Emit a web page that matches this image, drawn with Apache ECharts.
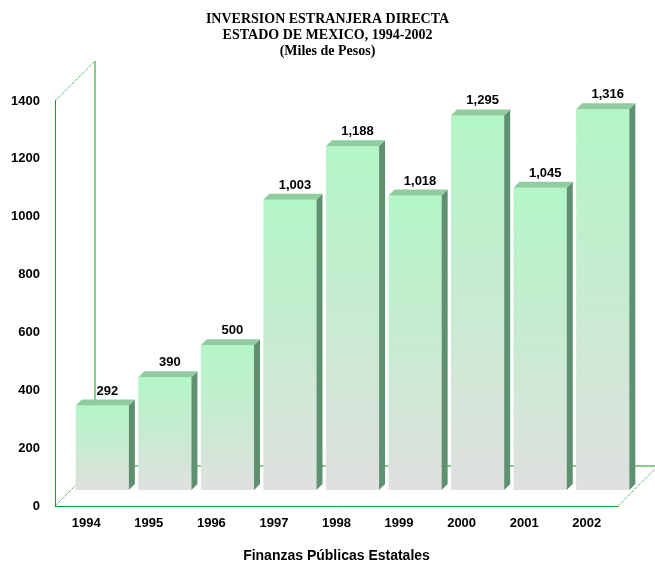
<!DOCTYPE html>
<html>
<head>
<meta charset="utf-8">
<script src="https://cdn.jsdelivr.net/npm/echarts@6/dist/echarts.min.js"></script>
<style>html,body{margin:0;padding:0;background:#fff}#c{width:655px;height:562px}</style>
</head>
<body>
<div id="c"></div>
<script>
var years = ['1994','1995','1996','1997','1998','1999','2000','2001','2002'];
var values = [292, 390, 500, 1003, 1188, 1018, 1295, 1045, 1316];
var titleLines = ['INVERSION ESTRANJERA DIRECTA', 'ESTADO DE MEXICO, 1994-2002', '(Miles de Pesos)'];
var xTitle = 'Finanzas Públicas Estatales';

var GREEN = '#1d991d';
var DEPTH = 40;      // frame depth in px
var OX = 16, OY = -16; // bar plane offset
var BD = 6;          // bar depth

function fmt(v){ return v.toString().replace(/\B(?=(\d{3})+(?!\d))/g, ','); }

var chart = echarts.init(document.getElementById('c'));
chart.setOption({
  animation: false,
  backgroundColor: '#ffffff',
  title: {
    text: titleLines.join('\n'),
    left: 'center', top: 6,
    textStyle: { fontFamily: 'Liberation Serif', fontWeight: 'bold', fontSize: 14, lineHeight: 16, color: '#000' }
  },
  grid: { left: 55, right: 37, top: 101, bottom: 56, containLabel: false, outerBoundsMode: 'none' },
  xAxis: {
    type: 'category', data: years,
    name: xTitle, nameLocation: 'middle', nameGap: 43,
    nameTextStyle: { fontFamily: 'Liberation Sans', fontWeight: 'bold', fontSize: 14, color: '#000' },
    axisLine: { show: true, lineStyle: { color: GREEN, width: 1 } },
    axisTick: { show: false },
    axisLabel: { fontFamily: 'Liberation Sans', fontWeight: 'bold', fontSize: 13, color: '#000', margin: 11 },
    splitLine: { show: false }
  },
  yAxis: {
    type: 'value', min: 0, max: 1400, interval: 200,
    axisLine: { show: true, lineStyle: { color: GREEN, width: 1 } },
    axisTick: { show: false },
    axisLabel: { fontFamily: 'Liberation Sans', fontWeight: 'bold', fontSize: 13, color: '#000', margin: 15,
      formatter: function (v) { return String(v); } },
    splitLine: { show: false }
  },
  series: [
    {
      type: 'custom', z: 1, silent: true,
      data: [[0, 0]],
      renderItem: function (params, api) {
        var cs = params.coordSys;
        var x0 = cs.x, y0 = cs.y + cs.height, yt = cs.y, x1 = cs.x + cs.width;
        var solid = { stroke: GREEN, lineWidth: 1, fill: null };
        var dot = { stroke: GREEN, lineWidth: 1, lineDash: [1, 1], fill: null };
        return {
          type: 'group',
          children: [
            { type: 'line', shape: { x1: x0 + DEPTH, y1: yt - DEPTH, x2: x0 + DEPTH, y2: y0 - DEPTH }, style: solid },
            { type: 'line', shape: { x1: x0 + DEPTH, y1: y0 - DEPTH, x2: x1 + DEPTH, y2: y0 - DEPTH }, style: solid },
            { type: 'line', shape: { x1: x0, y1: yt, x2: x0 + DEPTH, y2: yt - DEPTH }, style: dot },
            { type: 'line', shape: { x1: x0, y1: y0, x2: x0 + DEPTH, y2: y0 - DEPTH }, style: dot },
            { type: 'line', shape: { x1: x1, y1: y0, x2: x1 + DEPTH, y2: y0 - DEPTH }, style: dot }
          ]
        };
      }
    },
    {
      type: 'custom', z: 5,
      data: values.map(function (v, i) { return [i, v]; }),
      renderItem: function (params, api) {
        var idx = api.value(0), v = api.value(1);
        var base = api.coord([idx, 0]);
        var top = api.coord([idx, v]);
        var bw = api.size([1, 0])[0] * 0.85;
        var x0 = base[0] - bw / 2 + OX, x1 = x0 + bw;
        var yb = base[1] + OY, yt = top[1] + OY;
        return {
          type: 'group',
          children: [
            { type: 'rect', shape: { x: x0, y: yt, width: bw, height: yb - yt },
              style: { fill: new echarts.graphic.LinearGradient(0, 0, 0, 1, [
                { offset: 0, color: '#b3f6c7' }, { offset: 0.5, color: '#c8ebd1' }, { offset: 1, color: '#dfe0df' }]) } },
            { type: 'polygon', shape: { points: [[x1, yt], [x1 + BD, yt - BD], [x1 + BD, yb - BD], [x1, yb]] },
              style: { fill: '#5f9070' } },
            { type: 'polygon', shape: { points: [[x0, yt], [x0 + BD, yt - BD], [x1 + BD, yt - BD], [x1, yt]] },
              style: { fill: '#8fcd9e' } },
            { type: 'text', x: (x0 + x1) / 2 + 5, y: yt - BD - 2,
              style: { text: fmt(v), align: 'center', verticalAlign: 'bottom',
                fontFamily: 'Liberation Sans', fontWeight: 'bold', fontSize: 13, fill: '#000' } }
          ]
        };
      }
    }
  ]
});
</script>
</body>
</html>
